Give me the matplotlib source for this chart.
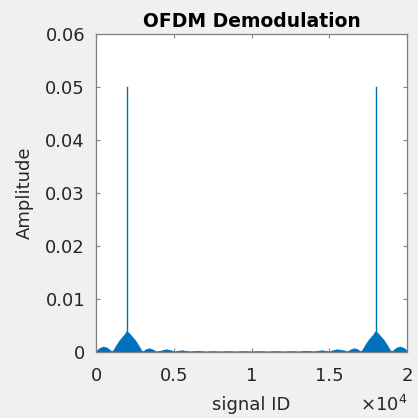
import matplotlib
matplotlib.use("Agg")
import matplotlib.pyplot as plt

plt.rcParams['font.family'] = ['DejaVu Sans']
plt.rcParams['mathtext.fontset'] = 'dejavusans'

# Spectrum envelope (signal index, amplitude), both halves listed explicitly
env_x = [0, 200, 450, 700, 900, 1000, 1100, 1300, 1500, 1700, 1850, 1950,
         2050, 2150, 2300, 2500, 2700, 2900, 3000, 3200, 3400, 3600, 3850,
         4100, 4500, 4800, 5000, 5500, 6000, 6500, 7000, 7500, 8000, 8500,
         9000, 9500, 10000, 10500, 11000, 11500, 12000, 12500, 13000, 13500,
         14000, 14500, 15000, 15200, 15500, 15900, 16150, 16400, 16600, 16800,
         17000, 17100, 17300, 17500, 17700, 17850, 17950, 18050, 18150, 18300,
         18500, 18700, 18900, 19000, 19100, 19300, 19550, 19800, 20000]
env_y = [0.0002, 0.0007, 0.0010, 0.0008, 0.0003, 0.0001, 0.0003, 0.0013,
         0.0022, 0.0029, 0.0034, 0.0039, 0.0037, 0.0034, 0.0029, 0.0022,
         0.0013, 0.0003, 0.0001, 0.0005, 0.0007, 0.0005, 0.0001, 0.0002,
         0.0005, 0.0003, 0.0001, 0.0003, 0.0001, 0.0002, 0.0001, 0.00015,
         0.0001, 0.00015, 0.0001, 0.00015, 0.0001, 0.00015, 0.0001, 0.00015,
         0.0001, 0.00015, 0.0001, 0.0002, 0.0001, 0.0003, 0.0001, 0.0003,
         0.0005, 0.0003, 0.0001, 0.0005, 0.0007, 0.0005, 0.0001, 0.0003,
         0.0013, 0.0022, 0.0029, 0.0034, 0.0039, 0.0037, 0.0034, 0.0029,
         0.0022, 0.0013, 0.0003, 0.0001, 0.0003, 0.0008, 0.0010, 0.0007,
         0.0002]

# Carrier peaks
peak_x = [2000, 18000]
peak_y = [0.05, 0.05]

x_ticks = [0, 5000, 10000, 15000, 20000]
x_tick_labels = ['0', '0.5', '1', '1.5', '2']
y_ticks = [0, 0.01, 0.02, 0.03, 0.04, 0.05, 0.06]
y_tick_labels = ['0', '0.01', '0.02', '0.03', '0.04', '0.05', '0.06']

blue = '#0072BD'
txt = '#262626'
fs = 13

fig = plt.figure(figsize=(4.18, 4.18), dpi=100, facecolor='#f0f0f0')
ax = fig.add_axes([0.230, 0.158, 0.744, 0.761])
ax.set_facecolor('white')

ax.fill_between(env_x, 0, env_y, color=blue, linewidth=0.6, edgecolor=blue)
for px, py in zip(peak_x, peak_y):
    ax.plot([px, px], [0, py], color=blue, linewidth=1.0)

ax.set_xlim(0, 20000)
ax.set_ylim(0, 0.06)
ax.set_xticks(x_ticks)
ax.set_xticklabels(x_tick_labels)
ax.set_yticks(y_ticks)
ax.set_yticklabels(y_tick_labels)

ax.tick_params(direction='in', length=3, width=0.8, colors='#808080',
               labelcolor=txt, labelsize=fs, top=True, right=True)
ax.tick_params(axis='x', pad=11)
ax.tick_params(axis='y', pad=8)
for s in ax.spines.values():
    s.set_color('#808080')
    s.set_linewidth(0.9)

ax.set_title('OFDM Demodulation', fontsize=13.5, fontweight='bold', pad=5)
ax.set_xlabel('signal ID', fontsize=fs, color=txt, labelpad=8)
ax.set_ylabel('Amplitude', fontsize=fs, color=txt, labelpad=8)

# Exponent marker for the x axis
fig.text(0.975, 0.006, r'$\times10^{4}$', ha='right', va='bottom',
         fontsize=fs, color=txt)

fig.savefig('out.png', dpi=100, facecolor=fig.get_facecolor())
